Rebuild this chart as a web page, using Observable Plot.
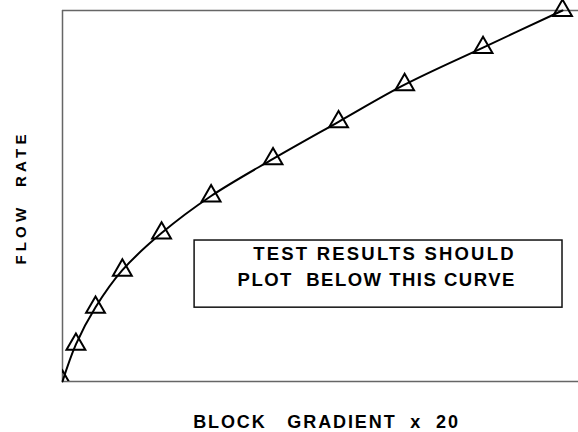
<!DOCTYPE html>
<html>
<head>
<meta charset="utf-8">
<script src="https://cdn.jsdelivr.net/npm/d3@7"></script>
<script src="https://cdn.jsdelivr.net/npm/@observablehq/plot@0.6"></script>
<style>
  html, body { margin: 0; padding: 0; background: #fff; }
  #chart svg text { white-space: pre; }
</style>
</head>
<body>
<div id="chart"></div>
<script>
// Data (arbitrary, unlabeled units)
const blockGradient = [0, 2.6, 6.4, 11.6, 19.2, 28.8, 40.8, 53.5, 66.3, 81.5, 96.9];
const flowRate      = [0, 1, 2, 3, 4, 5, 6, 7, 8, 9, 10];

const xLabel = "BLOCK   GRADIENT  x  20";
const yLabel = "FLOW  RATE";
const noteLines = ["TEST RESULTS SHOULD", "PLOT  BELOW THIS CURVE"];

// annotation box extents (data units)
const noteBox = [{x1: 25.6, x2: 96.9, y1: 1.99, y2: 3.8}];
const noteText = [
  {x: 62.4, y: 3.28, text: noteLines[0]},
  {x: 60.9, y: 2.58, text: noteLines[1]}
];

const points = blockGradient.map((g, i) => ({g, f: flowRate[i]}));
const font = "'Liberation Sans', Arial, Helvetica, sans-serif";

const svg = Plot.plot({
  width: 578,
  height: 432,
  marginLeft: 62,
  marginRight: 0,
  marginTop: 10,
  marginBottom: 51,
  style: {background: "#fff", fontFamily: font},
  x: {domain: [0, 100], axis: null},
  y: {domain: [0, 10], axis: null},
  marks: [
    Plot.ruleX([0], {y1: 0, y2: 10, stroke: "#666", strokeWidth: 1.5}),
    Plot.ruleY([0, 10], {x1: 0, x2: 100, stroke: "#666", strokeWidth: 1.5}),
    Plot.rect(noteBox, {x1: "x1", x2: "x2", y1: "y1", y2: "y2", fill: "none", stroke: "#111", strokeWidth: 1.5}),
    Plot.line(points, {x: "g", y: "f", curve: "catmull-rom", stroke: "#000", strokeWidth: 2}),
    Plot.dot(points.slice(1), {x: "g", y: "f", symbol: "triangle", r: 7, stroke: "#000", strokeWidth: 2, fill: "none"}),
    Plot.dot(points.slice(0, 1), {x: "g", y: "f", symbol: "triangle", r: 7, stroke: "#000", strokeWidth: 2, fill: "none", clip: "frame"}),
    Plot.text(noteText, {x: "x", y: "y", text: "text", textAnchor: "middle", lineAnchor: "bottom",
      fontSize: 18.5, fontWeight: "bold", fill: "#000", fontFamily: font}),
    Plot.text([xLabel], {frameAnchor: "bottom", dx: 6, dy: 46, textAnchor: "middle", lineAnchor: "bottom",
      fontSize: 18, fontWeight: "bold", fill: "#000", fontFamily: font}),
    Plot.text([yLabel], {frameAnchor: "left", dx: -37, dy: 1.5, rotate: -90, textAnchor: "middle", lineAnchor: "bottom",
      fontSize: 15, fontWeight: "bold", fill: "#000", fontFamily: font})
  ]
});

d3.select(svg).selectAll("text").each(function() {
  const t = this.textContent;
  const s = d3.select(this).style("white-space", "pre");
  if (t === noteLines[0]) s.attr("letter-spacing", "2.2px");
  else if (t === noteLines[1]) s.attr("letter-spacing", "1.5px");
  else if (t === xLabel) s.attr("letter-spacing", "1.9px");
  else if (t === yLabel) s.attr("letter-spacing", "4.2px");
});

document.getElementById("chart").appendChild(svg);
</script>
</body>
</html>
